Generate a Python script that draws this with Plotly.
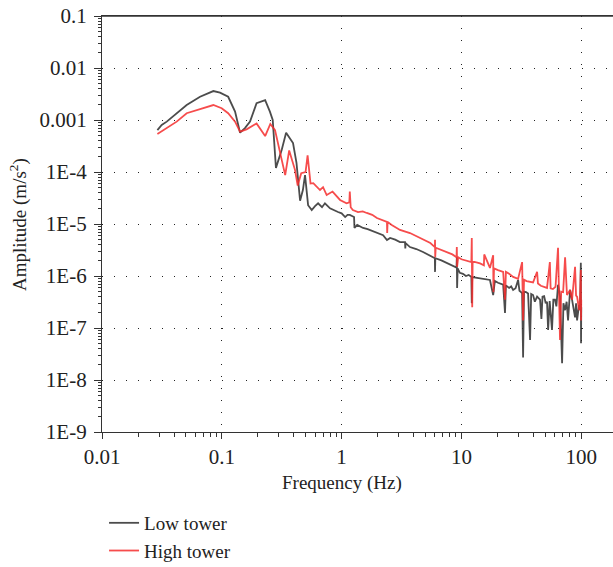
import plotly.graph_objects as go

# ---- data ----
low_f = [0.029, 0.0315, 0.0347, 0.0407, 0.0509, 0.0658, 0.085, 0.0966, 0.113, 0.129,
         0.142, 0.156, 0.172, 0.195, 0.23, 0.252, 0.266, 0.283, 0.316, 0.344,
         0.371, 0.393, 0.42, 0.45, 0.475, 0.495, 0.525, 0.563, 0.6, 0.636,
         0.686, 0.726, 0.8, 0.87, 0.933, 1.0, 1.07, 1.12, 1.17, 1.27,
         1.28, 1.35, 1.51, 1.65, 1.83, 2.0, 2.22, 2.39, 2.54, 2.8,
         3.07, 3.38, 3.40, 3.42, 3.72, 4.2, 4.78, 5.4, 6.0, 6.02,
         6.05, 6.8, 7.59, 8.4, 9.1, 9.15, 9.2, 9.3, 9.7, 10.3,
         10.9, 11.5, 12.1, 12.2, 12.3, 13.2, 14.3, 15.8, 17.3, 18.4,
         19.0, 20.2, 21.2, 22.3, 23.1, 23.5, 25, 26, 27, 28.3,
         29.7, 30.5, 32.1, 32.7, 33.3, 34.6, 36, 37.4, 38.2, 39.6,
         41, 42.8, 45.3, 46.5, 47.5, 49, 50.5, 51.8, 52.9, 54.5,
         57, 58.5, 60.4, 62, 64, 66.5, 69.2, 71, 73.3, 75.5,
         77.6, 80.7, 83.8, 86, 88.8, 90.5, 92.3, 95.9, 97.8, 99.2,
         99.6, 100]
low_a = [6.4e-4, 8.0e-4, 9.3e-4, 1.25e-3, 1.94e-3, 2.8e-3, 3.6e-3, 3.35e-3, 2.8e-3, 1.45e-3,
         5.7e-4, 7.0e-4, 9.3e-4, 2.1e-3, 2.4e-3, 1.45e-3, 1.0e-3, 1.2e-4, 2.65e-4, 5.7e-4,
         4.5e-4, 3.6e-4, 1.5e-4, 2.8e-5, 4.5e-5, 8.7e-5, 2.3e-5, 1.86e-5, 2.2e-5, 2.5e-5,
         2.1e-5, 2.5e-5, 2.0e-5, 1.8e-5, 1.7e-5, 1.6e-5, 1.36e-5, 1.5e-5, 1.5e-5, 1.36e-5,
         8.4e-6, 9.6e-6, 8.4e-6, 8.0e-6, 7.3e-6, 6.8e-6, 6.1e-6, 4.9e-6, 5.4e-6, 5.0e-6,
         4.5e-6, 4.5e-6, 3.4e-6, 4.3e-6, 3.6e-6, 3.3e-6, 2.9e-6, 2.5e-6, 2.2e-6, 1.2e-6,
         2.2e-6, 2.0e-6, 1.78e-6, 1.6e-6, 1.45e-6, 2.3e-6, 5.9e-7, 1.4e-6, 1.15e-6, 1.1e-6,
         1.0e-6, 1.05e-6, 9.6e-7, 3.0e-7, 9.5e-7, 9.3e-7, 9.1e-7, 8.7e-7, 8.4e-7, 4.3e-7,
         8.0e-7, 7.4e-7, 7.0e-7, 6.8e-7, 1.95e-7, 6.6e-7, 5.9e-7, 6.3e-7, 5.4e-7, 5.8e-7,
         8.4e-7, 5.2e-7, 4.7e-7, 2.7e-8, 5.0e-7, 4.9e-7, 4.6e-7, 5.9e-8, 4.5e-7, 4.3e-7,
         3.2e-7, 4.0e-7, 3.5e-7, 1.5e-7, 4.0e-7, 4.1e-7, 3.0e-7, 3.2e-7, 9.2e-8, 3.3e-7,
         9.2e-8, 3.5e-7, 3.5e-7, 2.6e-7, 6.8e-7, 4.0e-7, 2.1e-8, 3.0e-7, 2.2e-7, 3.2e-7,
         1.4e-7, 5.4e-7, 3.5e-7, 2.3e-7, 1.6e-7, 3.0e-7, 1.4e-7, 2.8e-7, 2.2e-7, 1.8e-6,
         5.1e-8, 2.5e-7]

high_f = [0.029, 0.0347, 0.042, 0.0509, 0.0658, 0.085, 0.0997, 0.113, 0.129, 0.142,
          0.161, 0.195, 0.23, 0.254, 0.278, 0.305, 0.338, 0.365, 0.408, 0.43,
          0.46, 0.50, 0.52, 0.55, 0.58, 0.66, 0.70, 0.75, 0.80, 0.84,
          0.97, 1.10, 1.16, 1.17, 1.19, 1.24, 1.37, 1.5, 1.62, 1.8,
          1.97, 2.2, 2.39, 2.40, 2.42, 2.62, 3.07, 3.72, 4.78, 5.5,
          6.0, 6.02, 6.04, 6.1, 7.59, 8.4, 9.1, 9.15, 9.2, 9.4,
          10, 11.5, 12.1, 12.2, 12.3, 12.4, 14.3, 15.4, 15.5, 17.3,
          18.4, 18.5, 18.7, 20.2, 22.3, 23.1, 23.5, 25, 27, 29.7,
          32.1, 32.7, 33.3, 35, 39.6, 42.8, 43.5, 46, 51.8, 54.7,
          55.5, 58, 61, 64, 66.5, 68, 70.6, 73.3, 75, 76,
          80.7, 83.8, 88.8, 90.5, 92.3, 95.9, 97.8, 99.2, 99.6, 100]
high_a = [5.4e-4, 6.9e-4, 9.3e-4, 1.35e-3, 1.6e-3, 1.94e-3, 1.68e-3, 1.35e-3, 9.3e-4, 6.0e-4,
          6.6e-4, 8.6e-4, 4.9e-4, 8.4e-4, 6.4e-4, 2.3e-4, 8.7e-5, 2.6e-4, 1.1e-4, 5.5e-5,
          9.5e-5, 1.0e-4, 2.1e-4, 6.0e-5, 6.1e-5, 4.5e-5, 5.1e-5, 3.6e-5, 4.0e-5, 4.2e-5,
          2.9e-5, 2.5e-5, 2.6e-5, 4.2e-5, 2.1e-5, 1.86e-5, 1.7e-5, 1.75e-5, 1.63e-5, 1.5e-5,
          1.3e-5, 1.2e-5, 1.1e-5, 6.7e-6, 1.1e-5, 9.6e-6, 7.7e-6, 6.7e-6, 5.1e-6, 4.3e-6,
          3.6e-6, 5.0e-6, 2.3e-6, 3.5e-6, 2.9e-6, 2.6e-6, 2.3e-6, 3.6e-6, 1.5e-6, 2.3e-6,
          2.1e-6, 1.9e-6, 1.85e-6, 5.4e-6, 2.5e-7, 1.9e-6, 1.75e-6, 1.6e-6, 2.6e-6, 1.43e-6,
          2.5e-6, 4.9e-7, 1.4e-6, 1.3e-6, 1.2e-6, 3.5e-7, 1.2e-6, 1.1e-6, 9.6e-7, 8.8e-7,
          1.85e-6, 1.4e-7, 8.5e-7, 8.0e-7, 7.5e-7, 1.2e-6, 7.2e-7, 6.5e-7, 5.9e-7, 1.85e-6,
          5.8e-7, 5.6e-7, 6.2e-7, 3.5e-6, 5.9e-8, 5.0e-7, 4.9e-7, 2.3e-6, 4.5e-7, 4.3e-7,
          5.4e-7, 3.5e-7, 1.5e-6, 4.2e-7, 4.0e-7, 2.2e-7, 4.0e-7, 1.3e-6, 1.4e-7, 3.5e-7]

x_ticks = [0.01, 0.1, 1, 10, 100]
x_labels = ["0.01", "0.1", "1", "10", "100"]
y_ticks = [1e-9, 1e-8, 1e-7, 1e-6, 1e-5, 1e-4, 1e-3, 1e-2, 1e-1]
y_labels = ["1E-9", "1E-8", "1E-7", "1E-6", "1E-5", "1E-4", "0.001", "0.01", "0.1"]

x_minor = [m * 10.0 ** e for e in range(-2, 3) for m in range(2, 10)]
y_minor = [m * 10.0 ** e for e in range(-9, -1) for m in range(2, 10)]

FONT = "Liberation Serif"

fig = go.Figure()
fig.add_trace(go.Scatter(x=low_f, y=low_a, mode="lines", name="Low tower",
                         line=dict(color="rgba(45,45,45,0.85)", width=1.8)))
fig.add_trace(go.Scatter(x=high_f, y=high_a, mode="lines", name="High tower",
                         line=dict(color="rgba(245,45,45,0.85)", width=1.8)))

fig.update_layout(
    width=613, height=567,
    margin=dict(l=102, r=0, t=16, b=135, autoexpand=False),
    paper_bgcolor="white", plot_bgcolor="white",
    font=dict(family=FONT, size=19, color="#222"),
    showlegend=True,
    legend=dict(x=0.004, y=-0.173, xanchor="left", yanchor="top",
                orientation="v", font=dict(family=FONT, size=19, color="#222"),
                bgcolor="rgba(0,0,0,0)", itemwidth=30, tracegroupgap=0),
    xaxis=dict(type="log", range=[-2, 2.265], automargin=False,
               tickvals=x_ticks, ticktext=x_labels, ticklabeloverflow="allow",
               ticks="outside", ticklen=6, tickcolor="#333", tickwidth=1,
               ticklabelstandoff=0,
               showline=True, linecolor="#333", linewidth=1.3, mirror=True,
               showgrid=True, gridcolor="#222", gridwidth=1, griddash="1px,11px",
               tickfont=dict(family=FONT, size=21, color="#222"),
               minor=dict(tickvals=x_minor, ticks="outside", ticklen=4,
                          tickcolor="#333", showgrid=False),
               zeroline=False),
    yaxis=dict(type="log", range=[-9, -1], automargin=False,
               tickvals=y_ticks, ticktext=y_labels, ticklabeloverflow="allow",
               ticks="outside", ticklen=7, tickcolor="#333", tickwidth=1,
               ticklabelstandoff=3,
               showline=True, linecolor="#333", linewidth=1.3, mirror=False,
               showgrid=True, gridcolor="#222", gridwidth=1, griddash="1px,11px",
               tickfont=dict(family=FONT, size=21, color="#222"),
               minor=dict(tickvals=y_minor, ticks="outside", ticklen=3,
                          tickcolor="#333", showgrid=False),
               zeroline=False),
    shapes=[dict(type="line", xref="paper", yref="paper", x0=0, x1=1, y0=1, y1=1,
                 line=dict(color="#333", width=1.3), layer="above")],
    annotations=[
        dict(text="Frequency (Hz)", xref="paper", yref="paper",
             x=0.4697, y=-0.1226, xanchor="center", yanchor="middle",
             showarrow=False, font=dict(family=FONT, size=19, color="#222")),
        dict(text="Amplitude (m/s<sup>2</sup>)", xref="paper", yref="paper",
             x=-0.1644, y=0.5, xanchor="center", yanchor="middle", textangle=-90,
             showarrow=False, font=dict(family=FONT, size=19, color="#222")),
    ],
)

fig.write_html("out.html", config={"displayModeBar": False},
               post_script="document.body.style.margin='0px';document.body.style.overflow='hidden';")
